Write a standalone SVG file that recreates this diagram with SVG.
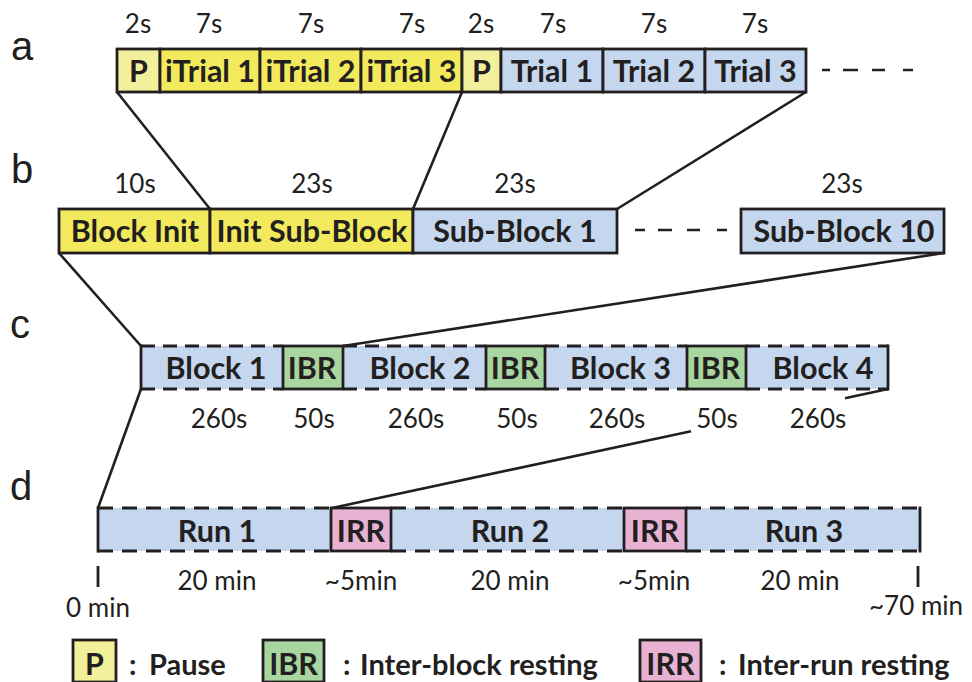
<svg xmlns="http://www.w3.org/2000/svg" width="972" height="682" viewBox="0 0 972 682">
<style>
.y{fill:#f2ea5c;stroke:#231f20;stroke-width:2.8}
.py{fill:#f3f09c;stroke:#231f20;stroke-width:2.8}
.b{fill:#c4d7ee;stroke:#231f20;stroke-width:2.8}
.bf{fill:#c4d7ee;stroke:none}
.g{fill:#a8d5a0;stroke:#231f20;stroke-width:2.8}
.pk{fill:#e8b3d3;stroke:#231f20;stroke-width:2.8}
.ed{stroke:#231f20;stroke-width:2.8;fill:none}
.dc{stroke:#231f20;stroke-width:2.8;fill:none;stroke-dasharray:14 8}
.dd{stroke:#231f20;stroke-width:2.8;fill:none;stroke-dasharray:15 9}
.lb{font-family:Lato,"Open Sans",sans-serif;font-weight:bold;font-size:30.5px;fill:#231f20;text-anchor:middle}
.du{font-family:Lato,"Open Sans",sans-serif;font-size:26px;fill:#231f20;text-anchor:middle}
.rl{font-family:"Liberation Sans",Arial,sans-serif;font-size:40px;fill:#231f20}
.lg{font-family:Lato,"Open Sans",sans-serif;font-weight:bold;font-size:29px;fill:#231f20}
.cn{stroke:#231f20;stroke-width:2.6;fill:none}
</style>
<rect width="972" height="682" fill="#ffffff"/>

<g id="row-labels">
<text class="rl" x="11" y="60">a</text>
<text class="rl" x="11" y="183">b</text>
<text class="rl" x="10" y="338">c</text>
<text class="rl" x="10" y="500">d</text>
</g>

<g id="connectors">
<line class="cn" x1="117" y1="92" x2="210" y2="209"/>
<line class="cn" x1="462" y1="92" x2="413" y2="209"/>
<line class="cn" x1="806" y1="92" x2="617" y2="209"/>
<line class="cn" x1="59" y1="253" x2="141" y2="346"/>
<line class="cn" x1="944" y1="253" x2="343" y2="346"/>
<line class="cn" x1="141" y1="389" x2="98" y2="508"/>
<path class="cn" d="M888 389 L845 398.2 M691 431.2 L332 508"/>
<line class="cn" stroke-dasharray="8 13 15 14 13 18 10" x1="822" y1="70" x2="913" y2="70"/>
<line class="cn" stroke-dasharray="10 13 14 15 13 17 10" x1="635" y1="230" x2="727" y2="230"/>
</g>

<g id="row-a">
<g id="a-p1"><rect class="py" x="117" y="49" width="43" height="43"/><text class="lb" x="138.5" y="82">P</text></g>
<g id="a-itrial1"><rect class="y" x="160" y="49" width="100" height="43"/><text class="lb" x="210" y="82">iTrial 1</text></g>
<g id="a-itrial2"><rect class="y" x="260" y="49" width="101" height="43"/><text class="lb" x="310.5" y="82">iTrial 2</text></g>
<g id="a-itrial3"><rect class="y" x="361" y="49" width="101" height="43"/><text class="lb" x="411.5" y="82">iTrial 3</text></g>
<g id="a-p2"><rect class="py" x="462" y="49" width="39" height="43"/><text class="lb" x="481.5" y="82">P</text></g>
<g id="a-trial1"><rect class="b" x="501" y="49" width="102" height="43"/><text class="lb" x="552" y="82">Trial 1</text></g>
<g id="a-trial2"><rect class="b" x="603" y="49" width="102" height="43"/><text class="lb" x="654" y="82">Trial 2</text></g>
<g id="a-trial3"><rect class="b" x="705" y="49" width="101" height="43"/><text class="lb" x="755.5" y="82">Trial 3</text></g>
<text class="du" x="138" y="33">2s</text>
<text class="du" x="209" y="33">7s</text>
<text class="du" x="311" y="33">7s</text>
<text class="du" x="412" y="33">7s</text>
<text class="du" x="481" y="33">2s</text>
<text class="du" x="553" y="33">7s</text>
<text class="du" x="654" y="33">7s</text>
<text class="du" x="755" y="33">7s</text>
</g>

<g id="row-b">
<g id="b-blockinit"><rect class="y" x="59" y="209" width="151" height="44"/><text class="lb" x="135" y="242">Block Init</text></g>
<g id="b-initsub"><rect class="y" x="210" y="209" width="203" height="44"/><text class="lb" x="312" y="242">Init Sub-Block</text></g>
<g id="b-sub1"><rect class="b" x="413" y="209" width="204" height="44"/><text class="lb" x="515" y="242">Sub-Block 1</text></g>
<g id="b-sub10"><rect class="b" x="741" y="209" width="203" height="44"/><text class="lb" x="844" y="242">Sub-Block 10</text></g>
<text class="du" x="135" y="193">10s</text>
<text class="du" x="312" y="193">23s</text>
<text class="du" x="515" y="193">23s</text>
<text class="du" x="842" y="193">23s</text>
</g>

<g id="row-c">
<rect class="bf" x="141" y="346" width="747" height="43"/>
<g id="c-block1"><path class="dc" d="M141 346 H283 M141 389 H283"/><text class="lb" x="216" y="379">Block 1</text></g>
<g id="c-ibr1"><rect class="g" x="283" y="346" width="60" height="43"/><text class="lb" x="312" y="379">IBR</text></g>
<g id="c-block2"><path class="dc" d="M343 346 H486 M343 389 H486"/><text class="lb" x="420" y="379">Block 2</text></g>
<g id="c-ibr2"><rect class="g" x="486" y="346" width="59" height="43"/><text class="lb" x="515" y="379">IBR</text></g>
<g id="c-block3"><path class="dc" d="M545 346 H687 M545 389 H687"/><text class="lb" x="620.5" y="379">Block 3</text></g>
<g id="c-ibr3"><rect class="g" x="687" y="346" width="59" height="43"/><text class="lb" x="716" y="379">IBR</text></g>
<g id="c-block4"><path class="dc" d="M746 346 H888 M746 389 H888"/><text class="lb" x="823" y="379">Block 4</text></g>
<path class="ed" d="M141 344.6 V390.4 M888 344.6 V390.4"/>
<text class="du" x="219" y="428">260s</text>
<text class="du" x="314" y="428">50s</text>
<text class="du" x="416" y="428">260s</text>
<text class="du" x="517" y="428">50s</text>
<text class="du" x="617" y="428">260s</text>
<text class="du" x="717" y="428">50s</text>
<text class="du" x="818" y="428">260s</text>
</g>

<g id="row-d">
<rect class="bf" x="98" y="508" width="822" height="43"/>
<g id="d-run1"><path class="dd" d="M98 508 H331 M98 551 H331"/><text class="lb" x="217" y="542">Run 1</text></g>
<g id="d-irr1"><rect class="pk" x="331" y="508" width="60" height="43"/><text class="lb" x="361" y="542">IRR</text></g>
<g id="d-run2"><path class="dd" d="M391 508 H624 M391 551 H624"/><text class="lb" x="510" y="542">Run 2</text></g>
<g id="d-irr2"><rect class="pk" x="624" y="508" width="62" height="43"/><text class="lb" x="655" y="542">IRR</text></g>
<g id="d-run3"><path class="dd" d="M686 508 H920 M686 551 H920"/><text class="lb" x="804" y="542">Run 3</text></g>
<path class="ed" d="M98 506.6 V552.4 M920 506.6 V552.4"/>
<path class="ed" d="M98 566 V587 M918 566 V587"/>
<text class="du" x="217" y="590">20 min</text>
<text class="du" x="361" y="590">~5min</text>
<text class="du" x="510" y="590">20 min</text>
<text class="du" x="654" y="590">~5min</text>
<text class="du" x="800" y="590">20 min</text>
<text class="du" x="98" y="617">0 min</text>
<text class="du" x="916" y="615">~70 min</text>
</g>

<g id="legend">
<g id="legend-p"><rect class="py" x="73" y="640" width="43" height="42"/><text class="lb" x="94.5" y="675">P</text><text class="lg" x="129" y="675">:<tspan x="149">Pause</tspan></text></g>
<g id="legend-ibr"><rect class="g" x="263" y="640" width="61" height="42"/><text class="lb" x="293.5" y="675">IBR</text><text class="lg" x="343" y="675">:<tspan x="360">Inter-block resting</tspan></text></g>
<g id="legend-irr"><rect class="pk" x="640" y="640" width="61" height="42"/><text class="lb" x="670.5" y="675">IRR</text><text class="lg" x="719" y="675">:<tspan x="738">Inter-run resting</tspan></text></g>
</g>
</svg>
